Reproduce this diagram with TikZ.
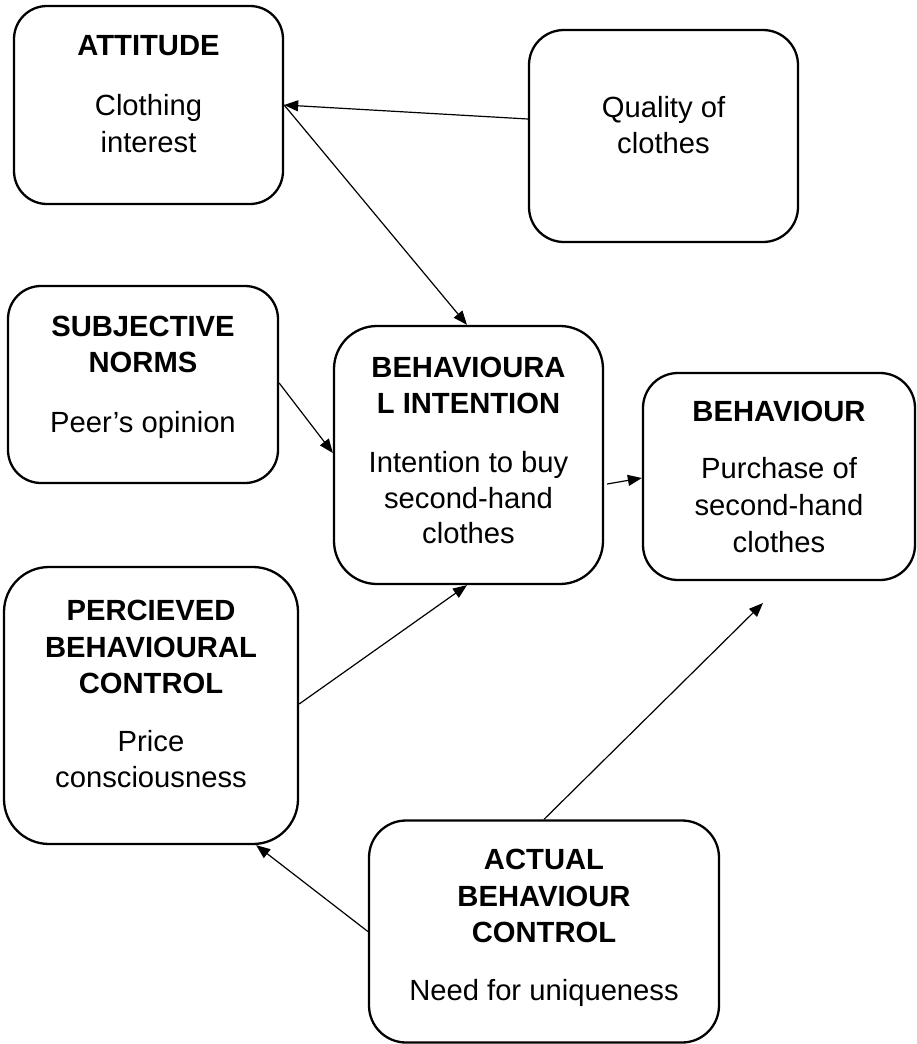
\documentclass[tikz,border=0pt]{standalone}
\usepackage{fontspec}
\setmainfont{Liberation Sans}
\usetikzlibrary{arrows.meta,calc}

\begin{document}
\begin{tikzpicture}[x=1pt,y=-1pt,
  box/.style={draw, line width=2.3pt, inner sep=0pt},
  hd/.style={anchor=base, inner sep=0pt, font=\fontsize{29.2}{35}\selectfont\bfseries},
  tx/.style={anchor=base, inner sep=0pt, font=\fontsize{29.2}{35}\selectfont},
  link/.style={line width=1.2pt, -{Triangle[length=14pt,width=11pt]}}]

\useasboundingbox (0,0) rectangle (917,1044);

% boxes
\node[box, minimum width=269pt, minimum height=198pt, rounded corners=33pt] (att)  at (148.5,105)  {};
\node[box, minimum width=269pt, minimum height=212pt, rounded corners=35pt] (qual) at (663.5,136)  {};
\node[box, minimum width=270pt, minimum height=197pt, rounded corners=33pt] (subj) at (143,384.5)  {};
\node[box, minimum width=269pt, minimum height=258pt, rounded corners=43pt] (bi)   at (468.5,455)  {};
\node[box, minimum width=272pt, minimum height=207pt, rounded corners=35pt] (beh)  at (779,476.5)  {};
\node[box, minimum width=294pt, minimum height=277pt, rounded corners=45pt] (perc) at (151,705.5)  {};
\node[box, minimum width=350pt, minimum height=222pt, rounded corners=37pt] (act)  at (544,931.5)  {};

% texts
\node[hd] (att-1) at (148.5,55)  {ATTITUDE};
\node[tx] (att-2) at (148.5,115) {Clothing};
\node[tx] (att-3) at (148.5,152) {interest};

\node[tx] (qual-1) at (663.5,117) {Quality of};
\node[tx] (qual-2) at (663.5,153) {clothes};

\node[hd] (subj-1) at (143,336) {SUBJECTIVE};
\node[hd] (subj-2) at (143,372) {NORMS};
\node[tx] (subj-3) at (143,432) {Peer’s opinion};

\node[hd] (bi-1) at (468.5,377) {BEHAVIOURA};
\node[hd] (bi-2) at (468.5,413) {L INTENTION};
\node[tx] (bi-3) at (468.5,472) {Intention to buy};
\node[tx] (bi-4) at (468.5,508) {second-hand};
\node[tx] (bi-5) at (468.5,543) {clothes};

\node[hd] (beh-1) at (779,421) {BEHAVIOUR};
\node[tx] (beh-2) at (779,478) {Purchase of};
\node[tx] (beh-3) at (779,515) {second-hand};
\node[tx] (beh-4) at (779,552) {clothes};

\node[hd] (perc-1) at (151,620) {PERCIEVED};
\node[hd] (perc-2) at (151,657) {BEHAVIOURAL};
\node[hd] (perc-3) at (151,693) {CONTROL};
\node[tx] (perc-4) at (151,751) {Price};
\node[tx] (perc-5) at (151,787) {consciousness};

\node[hd] (act-1) at (544,869) {ACTUAL};
\node[hd] (act-2) at (544,906) {BEHAVIOUR};
\node[hd] (act-3) at (544,942) {CONTROL};
\node[tx] (act-4) at (544,1000) {Need for uniqueness};

% connectors
\coordinate (behin) at (763,603);

\draw[link] ($(qual.west)+(0,-17)$) -- (att.east);
\draw[link] (att.east) -- ($(bi.north)+(-1.5,0)$);
\draw[link] ($(subj.east)+(0,-1.5)$) -- ($(bi.west)+(0,-2)$);
\draw[link] ($(perc.east)+(0,-1.5)$) -- ($(bi.south)+(-1.5,0)$);
\draw[link] ($(bi.east)+(3,29)$) -- ($(beh.west)+(0,1.5)$);
\draw[link] (act.north) -- (behin);
\draw[link] (act.west) -- ($(perc.south east)+(-43,0)$);

\end{tikzpicture}
\end{document}
